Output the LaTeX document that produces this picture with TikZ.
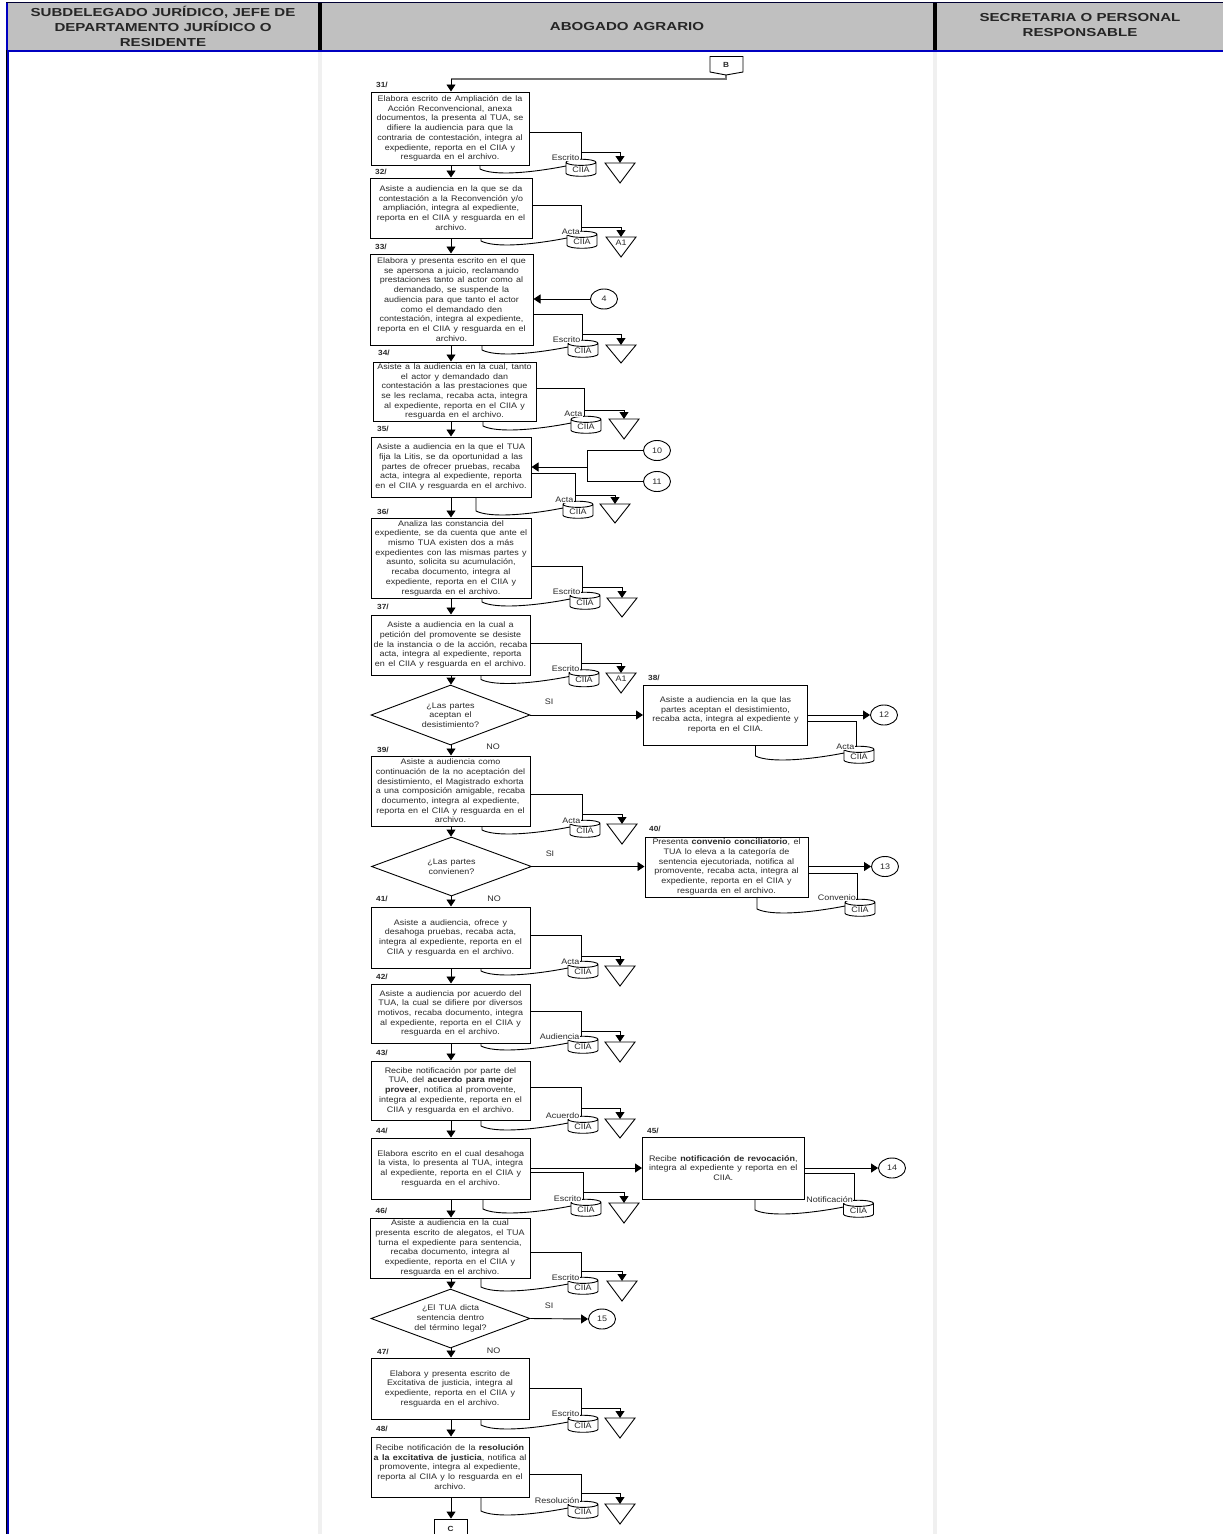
\documentclass[tikz,border=0pt]{standalone}
\usepackage{fontspec}
\setmainfont{Liberation Sans}[FakeStretch=1.12,WordSpace=1.35]
\newfontfamily\hdrfont{Liberation Sans}[FakeStretch=1.3]
\usetikzlibrary{arrows.meta,shapes.geometric,calc}
\definecolor{hdrgray}{HTML}{C0C0C0}
\definecolor{hdrblue}{HTML}{0000C0}
\definecolor{lanegray}{HTML}{F0F0F0}
\definecolor{inktext}{HTML}{2A2A2A}
\tikzset{
  flowline/.style={draw=black,line width=0.9pt},
  arr/.style={flowline,-{Triangle[width=9pt,length=7pt]}},
  stepbox/.style={draw=black,line width=1pt,fill=white,rectangle,inner sep=0pt,align=center,text=inktext,font=\fontsize{8}{9.7}\selectfont},
  decbox/.style={draw=black,line width=0.9pt,fill=white,diamond,aspect=2.65,inner sep=0pt,align=center,text=inktext,font=\fontsize{8}{9.7}\selectfont},
  conn/.style={draw=black,line width=0.9pt,fill=white,ellipse,inner sep=0pt,minimum width=27pt,minimum height=20pt,text=inktext,font=\fontsize{8}{9}\selectfont},
  numlab/.style={inner sep=0pt,font=\bfseries\fontsize{7.4}{8}\selectfont,text=inktext},
  txtlab/.style={inner sep=0pt,text=inktext,font=\fontsize{8}{9}\selectfont},
  doclab/.style={txtlab,fill=white,inner xsep=0.5pt,inner ysep=0pt},
  hdrtext/.style={inner sep=0pt,align=center,text=black!85,font=\hdrfont\bfseries\fontsize{11.6}{15}\selectfont},
  dbnode/.style={draw=black,line width=0.9pt,fill=white,cylinder,shape border rotate=90,aspect=0.35,inner sep=0pt,text=inktext,font=\fontsize{8}{9}\selectfont},
}
% name, L, T, R, B, number label x, number label y, text
\newcommand{\stepat}[8]{%
  \node[stepbox,minimum width={#4-#2},minimum height={#5-#3}] (#1) at ({(#2+#4)/2},{(#3+#5)/2}) {#8};
  \node[numlab] (#1-num) at (#6,#7) {#1/};
}
% id, box, xd, y0, xw, cylL, cylT, label, labely
\newcommand{\docat}[9]{%
  \coordinate (#1-r) at (#2.east |- 0,#4);
  \coordinate (#1-c) at (#3,#4);
  \coordinate (#1-e) at (#3,#7+2);
  \coordinate (#1-w0) at (#2.south -| #5,0);
  \coordinate (#1-w1) at (#5,#7+8);
  \coordinate (#1-w2) at (#6,#7+5);
  \draw[flowline] (#1-r) -- (#1-c) -- (#1-e);
  \draw[flowline] (#1-w0) -- (#1-w1) .. controls +(14,7) and ($(#1-w2)+(-36,7)$) .. (#1-w2);
  \node[dbnode,minimum width=30pt,minimum height=17pt] (#1-db) at (#6+15,#7+8.5) {CIIA};
  \node[doclab,anchor=east] (#1-lab) at (#3-1,#9) {#8};
}
% id, xd, yh, cx, ttop, apex, text
\newcommand{\triat}[7]{%
  \coordinate (#1-s) at (#2,#3);
  \coordinate (#1-t) at (#4,#5);
  \draw[flowline,fill=white] (#4-15,#5) -- (#4+15,#5) -- (#4,#6) -- cycle;
  \draw[arr] (#1-s) -| (#1-t);
  \node[txtlab] (#1-txt) at (#4,#5+5.5) {#7};
}
\begin{document}
\begin{tikzpicture}[x=1pt,y=-1pt]
\useasboundingbox (0,0) rectangle (1223,1534);
\fill[white] (0,0) rectangle (1223,1534);
% header band and lanes
\fill[hdrgray] (7,3) rectangle (1223,50);
\fill[black!80!blue] (6,2) rectangle (1223,3.4);
\fill[lanegray] (318,50) rectangle (322,1534);
\fill[lanegray] (933,50) rectangle (937,1534);
\fill[black] (318,3) rectangle (322,50);
\fill[black] (933,3) rectangle (937,50);
\fill[hdrblue] (6,49.5) rectangle (1223,52);
\fill[black] (5.5,50) rectangle (6.8,1534);
\fill[hdrblue] (6.8,50) rectangle (8.8,1534);
\fill[hdrblue] (6,3) rectangle (8,50);
\node[hdrtext] (h1) at (163,26.5) {SUBDELEGADO JURÍDICO, JEFE DE\\DEPARTAMENTO JURÍDICO O\\RESIDENTE};
\node[hdrtext] (h2) at (627,26.5) {ABOGADO AGRARIO};
\node[hdrtext] (h3) at (1080,25.5) {SECRETARIA O PERSONAL\\RESPONSABLE};
\coordinate (axis) at (451,0);

% off-page B
\coordinate (offB-tip) at (726,75);
\coordinate (corner31) at (451,79);
\draw[line width=1.4pt,draw=black!55] (offB-tip) |- (corner31);
\draw[flowline,fill=white] (710,56.5) -- (743,56.5) -- (743,72) -- (offB-tip) -- (710,72) -- cycle;
\node[numlab] (offB) at (726,64.5) {B};

% steps
\stepat{31}{371}{92}{529}{165}{382}{85}{Elabora escrito de Ampliación de la\\Acción Reconvencional,  anexa\\documentos,  la presenta  al TUA,  se\\difiere la audiencia para que la\\contraria  de contestación, integra al\\expediente,  reporta  en el CIIA y\\resguarda  en el archivo.}
\stepat{32}{370}{178}{532}{238}{381}{172}{Asiste a audiencia  en la que se da\\contestación a la Reconvención y/o\\ampliación,  integra al expediente,\\reporta  en el CIIA y resguarda  en el\\archivo.}
\stepat{33}{370}{254}{533}{345}{381}{247}{Elabora y presenta  escrito en el que\\se apersona  a juicio, reclamando\\prestaciones  tanto  al actor como al\\demandado,  se suspende la\\audiencia para que tanto el actor\\como el demandado  den\\contestación, integra al expediente,\\reporta  en el CIIA y resguarda  en el\\archivo.}
\stepat{34}{373}{362}{536}{421}{384}{353}{Asiste a la audiencia  en la cual, tanto\\el actor y demandado  dan\\contestación  a las prestaciones  que\\se les reclama,  recaba acta,  integra\\al expediente,  reporta  en el CIIA y\\resguarda  en el archivo.}
\stepat{35}{371}{437}{531}{497}{383}{429}{Asiste a audiencia  en la que el TUA\\fija la Litis, se da oportunidad  a las\\partes de ofrecer pruebas,  recaba\\acta, integra al expediente,  reporta\\en el CIIA y resguarda  en el archivo.}
\stepat{36}{371}{518}{531}{598}{383}{512}{Analiza las constancia  del\\expediente,  se da cuenta que ante  el\\mismo  TUA existen dos a más\\expedientes con las mismas partes  y\\asunto,  solicita su acumulación,\\recaba  documento,  integra al\\expediente,  reporta  en el CIIA y\\resguarda  en el archivo.}
\stepat{37}{371}{615}{530}{675}{383}{607}{Asiste a audiencia  en la cual a\\petición del promovente  se desiste\\de la instancia o de la acción, recaba\\acta, integra al expediente,  reporta\\en el CIIA y resguarda  en el archivo.}
\stepat{38}{643.5}{685}{807.5}{745}{654}{678}{Asiste a audiencia  en la que las\\partes aceptan  el desistimiento,\\recaba  acta, integra  al expediente y\\reporta  en el CIIA.}
\stepat{39}{371}{756}{530}{826}{383}{750}{Asiste a audiencia  como\\continuación  de la no aceptación  del\\desistimiento,  el Magistrado  exhorta\\a una composición  amigable,  recaba\\documento,  integra al expediente,\\reporta  en el CIIA y resguarda  en el\\archivo.}
\stepat{40}{645}{837}{808}{897}{655}{829}{Presenta  \textbf{convenio conciliatorio}, el\\TUA lo eleva a la categoría  de\\sentencia ejecutoriada,  notifica al\\promovente,  recaba acta, integra al\\expediente,  reporta  en el CIIA y\\resguarda  en el archivo.}
\stepat{41}{371}{907}{530}{968}{382}{899}{Asiste a audiencia,  ofrece  y\\desahoga  pruebas,  recaba acta,\\integra al expediente,  reporta  en el\\CIIA y resguarda  en el archivo.}
\stepat{42}{371}{984}{530}{1043}{382}{977}{Asiste a audiencia por acuerdo  del\\TUA,  la cual se difiere por diversos\\motivos, recaba documento,  integra\\al expediente,  reporta  en el CIIA y\\resguarda  en el archivo.}
\stepat{43}{371}{1061}{530}{1120}{382}{1053}{Recibe notificación por  parte del\\TUA,  del \textbf{acuerdo para mejor}\\\textbf{proveer}, notifica al promovente,\\integra  al expediente,  reporta  en el\\CIIA y resguarda  en el archivo.}
\stepat{44}{371}{1138}{530.5}{1199}{382}{1131}{Elabora escrito en el cual desahoga\\la vista, lo presenta  al TUA,  integra\\al expediente,  reporta  en el CIIA y\\resguarda  en el archivo.}
\stepat{45}{642.5}{1137}{804}{1199}{653}{1131}{Recibe \textbf{notificación de revocación},\\integra  al expediente y reporta  en el\\CIIA.}
\stepat{46}{370}{1218}{530}{1278}{381.5}{1211}{Asiste a audiencia  en la cual\\presenta  escrito de alegatos, el TUA\\turna  el expediente para  sentencia,\\recaba  documento,  integra al\\expediente,  reporta  en el CIIA y\\resguarda  en el archivo.}
\stepat{47}{371}{1358}{529}{1419}{383}{1352}{Elabora y presenta  escrito de\\Excitativa de justicia, integra al\\expediente,  reporta  en el CIIA y\\resguarda  en el archivo.}
\stepat{48}{371}{1437}{529}{1497}{382}{1429}{Recibe notificación de la \textbf{resolución}\\\textbf{a la excitativa de justicia}, notifica al\\promovente,  integra al expediente,\\reporta  al CIIA y lo resguarda  en el\\archivo.}

% decisions
\node[decbox,minimum width=159pt,minimum height=60pt] (d1) at (450.5,715) {¿Las partes\\aceptan el\\desistimiento?};
\node[decbox,minimum width=160pt,minimum height=59pt] (d2) at (451.5,866.5) {¿Las partes\\convienen?};
\node[decbox,minimum width=159pt,minimum height=59pt] (d3) at (450.5,1318.5) {¿El TUA dicta\\sentencia dentro\\del término  legal?};

% terminal C
\node[draw=black,line width=0.9pt,fill=white,rectangle,inner sep=0pt,minimum width=33pt,minimum height=20pt,font=\bfseries\fontsize{7.4}{8}\selectfont,text=inktext] (endC) at (450.5,1529) {C};

% vertical flow
\draw[arr] (corner31) -- (axis |- 31.north);
\foreach \a/\b in {31/32,32/33,33/34,34/35,35/36,36/37,37/d1,d1/39,39/d2,d2/41,41/42,42/43,43/44,44/46,46/d3,d3/47,47/48,48/endC}{
  \draw[arr] (axis |- \a.south) -- (axis |- \b.north);
}

% documents: id, box, xd, y0, xw, cylL, cylT, label, labely
\docat{a31}{31}{581}{132}{480}{566}{161}{Escrito}{158}
\docat{a32}{32}{581.5}{205}{481}{567}{233}{Acta}{232}
\docat{a33}{33}{582}{314}{482}{568}{342}{Escrito}{340}
\docat{a34}{34}{584}{388}{483}{571}{418}{Acta}{414}
\docat{a35}{35}{575}{473}{476}{563}{503}{Acta}{500}
\docat{a36}{36}{582}{566}{482}{570}{594}{Escrito}{592}
\docat{a37}{37}{581}{643}{481}{569}{671.5}{Escrito}{669}
\docat{a38}{38}{856}{721}{755.5}{844}{748}{Acta}{747}
\docat{a39}{39}{582}{794}{482}{570}{822}{Acta}{821}
\docat{a40}{40}{857.5}{873}{757}{845}{901}{Convenio}{898}
\docat{a41}{41}{581}{935}{481}{568}{963}{Acta}{962}
\docat{a42}{42}{581}{1011}{481}{568}{1038}{Audiencia}{1037}
\docat{a43}{43}{581}{1087}{481}{568}{1118}{Acuerdo}{1116}
\docat{a44}{44}{583}{1172}{483}{571}{1201}{Escrito}{1199}
\docat{a45}{45}{854.5}{1173}{755}{843.5}{1202}{Notificación}{1200}
\docat{a46}{46}{581}{1252}{481}{568}{1279}{Escrito}{1278}
\docat{a47}{47}{581}{1388}{481}{568}{1417}{Escrito}{1414}
\docat{a48}{48}{581}{1474}{481}{568}{1503}{Resolución}{1501}

% triangles: id, xd, yh, cx, ttop, apex, text
\triat{t31}{581}{152}{620}{163}{183}{}
\triat{t32}{581.5}{227}{621}{237}{257}{A1}
\triat{t33}{582}{334}{621}{345}{363}{}
\triat{t34}{584}{410}{624}{419}{439}{}
\triat{t35}{575}{495}{615}{504}{523}{}
\triat{t36}{582}{587}{622}{598}{617}{}
\triat{t37}{581}{663}{621}{673}{693}{A1}
\triat{t39}{582}{814}{622}{824}{844}{}
\triat{t41}{581}{956}{620}{966}{986}{}
\triat{t42}{581}{1031}{620}{1042}{1062}{}
\triat{t43}{581}{1108}{620}{1119}{1138}{}
\triat{t44}{583}{1192}{624}{1203}{1223}{}
\triat{t46}{581}{1271}{622}{1281}{1301}{}
\triat{t47}{581}{1408}{620}{1418}{1438}{}
\triat{t48}{581}{1493}{620}{1504}{1524}{}

% connectors
\node[conn] (c4) at (604,299) {4};
\draw[arr] (c4.west) -- (33.east |- c4.west);
\node[conn] (c10) at (657,450.5) {10};
\node[conn] (c11) at (657,481.5) {11};
\coordinate (j35a) at (587,450.5);
\coordinate (j35b) at (587,481.5);
\coordinate (j35) at (587,467);
\draw[flowline] (c10.west) -- (j35a) -- (j35b) -- (c11.west);
\draw[arr] (j35) -- (35.east |- j35);
\node[conn] (c12) at (884,715) {12};
\draw[arr] (d1.east) -- (38.west);
\draw[arr] (38.east) -- (c12.west);
\node[conn] (c13) at (885,866.5) {13};
\draw[arr] (d2.east) -- (40.west |- d2.east);
\draw[arr] (40.east |- c13.west) -- (c13.west);
\node[conn] (c14) at (892,1168) {14};
\coordinate (j44) at (530.5,1168);
\draw[arr] (j44) -- (45.west |- j44);
\draw[arr] (45.east |- c14.west) -- (c14.west);
\node[conn] (c15) at (602,1319) {15};
\draw[arr] (d3.east) -- (c15.west);

% branch labels
\node[txtlab] (si1) at (549,702) {SI};
\node[txtlab] (no1) at (493,747) {NO};
\node[txtlab] (si2) at (550,854) {SI};
\node[txtlab] (no2) at (494,899) {NO};
\node[txtlab] (si3) at (549,1306) {SI};
\node[txtlab] (no3) at (493.5,1351) {NO};
\end{tikzpicture}
\end{document}
